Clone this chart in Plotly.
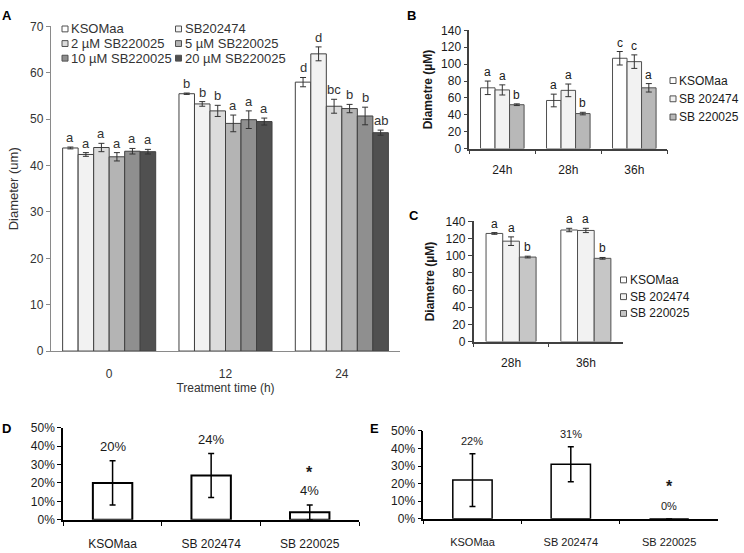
import plotly.graph_objects as go

W, H = 744, 553
FONT = "Liberation Sans, Arial, sans-serif"

# ---------------- data ----------------
# A: diameter over treatment time
a_times = ["0", "12", "24"]
a_groups = ["KSOMaa", "SB202474", "2 µM SB220025", "5 µM SB220025",
            "10 µM SB220025", "20 µM SB220025"]
a_means = [
    [43.8, 55.5, 58.0],
    [42.4, 53.3, 64.1],
    [43.9, 51.8, 52.8],
    [41.9, 49.1, 52.3],
    [43.1, 49.9, 50.7],
    [43.0, 49.5, 47.1],
]
a_errs = [
    [0.2, 0.15, 1.0],
    [0.4, 0.5, 1.5],
    [0.9, 1.2, 1.5],
    [0.9, 1.8, 0.9],
    [0.6, 1.9, 1.9],
    [0.5, 0.75, 0.55],
]
a_letters = [
    ["a", "b", "d"],
    ["a", "b", "d"],
    ["a", "b", "bc"],
    ["a", "a", "b"],
    ["a", "a", "b"],
    ["a", "a", "ab"],
]

# B and C: diameter (µM)
bc_groups = ["KSOMaa", "SB 202474", "SB 220025"]
b_times = ["24h", "28h", "36h"]
b_means = [[72, 57, 107], [69.5, 69, 103], [52, 41.5, 72]]
b_errs = [[8, 7.5, 8], [6, 7.5, 8], [1, 1.5, 5]]
b_letters = [["a", "a", "c"], ["a", "a", "c"], ["b", "b", "a"]]

c_times = ["28h", "36h"]
c_means = [[126, 130], [117, 129.5], [98.5, 97]]
c_errs = [[1, 2], [5, 2.5], [1, 1]]
c_letters = [["a", "a"], ["a", "a"], ["b", "b"]]

# D and E: percentages
de_groups = ["KSOMaa", "SB 202474", "SB 220025"]
d_vals = [20, 24, 4]
d_errs = [12, 12, 4]
d_stars = ["", "", "*"]
e_vals = [22, 31, 0]
e_errs = [15, 10, 0]
e_stars = ["", "", "*"]

a_colors = ["#ffffff", "#f2f2f2", "#dcdcdc", "#b4b4b4", "#8f8f8f", "#505050"]
b_colors = ["#ffffff", "#f2f2f2", "#b8b8b8"]
c_colors = ["#ffffff", "#f2f2f2", "#c6c6c6"]


def xdom(left, right):
    return [left / W, right / W]


def ydom(top, bottom):
    return [1 - bottom / H, 1 - top / H]


fig = go.Figure()
annotations = []
shapes = []


def add_bars(ax, cats, names, means, errs, letters, colors, first_off, width,
             line_col, letter_size, letter_col):
    for i, name in enumerate(names):
        off = first_off + i * width
        fig.add_trace(go.Bar(
            x=cats, y=means[i], name=name, xaxis="x" + ax, yaxis="y" + ax,
            width=width, offset=off, showlegend=False,
            marker=dict(color=colors[i], line=dict(color=line_col, width=1)),
            error_y=dict(type="data", array=errs[i], color="#333333",
                         thickness=1, width=3),
        ))
        for j in range(len(cats)):
            annotations.append(dict(
                x=j + off + width / 2, y=means[i][j] + errs[i][j],
                xref="x" + ax, yref="y" + ax, text=letters[i][j],
                showarrow=False, yanchor="bottom", yshift=0,
                font=dict(size=letter_size, color=letter_col)))


add_bars("", a_times, a_groups, a_means, a_errs, a_letters, a_colors,
         -0.4, 0.8 / 6, "#404040", 13, "#333333")
add_bars("2", b_times, bc_groups, b_means, b_errs, b_letters, b_colors,
         -0.33, 0.22, "#505050", 12, "#1a1a1a")
add_bars("3", c_times, bc_groups, c_means, c_errs, c_letters, c_colors,
         -0.335, 0.223, "#505050", 12, "#1a1a1a")


def add_pct(ax, vals, errs, stars, lw, size, shift, star_shift):
    fig.add_trace(go.Bar(
        x=de_groups, y=vals, xaxis="x" + ax, yaxis="y" + ax,
        width=0.4, offset=-0.2, showlegend=False,
        marker=dict(color="white", line=dict(color="black", width=lw)),
        error_y=dict(type="data", array=errs, color="black",
                     thickness=1.5, width=3),
    ))
    for j, v in enumerate(vals):
        top = v + errs[j]
        annotations.append(dict(
            x=j, y=top, xref="x" + ax, yref="y" + ax, text=f"{v}%",
            showarrow=False, yanchor="middle", yshift=shift,
            font=dict(size=size, color="#1a1a1a")))
        if stars[j]:
            annotations.append(dict(
                x=j, y=top, xref="x" + ax, yref="y" + ax,
                text=f"<b>{stars[j]}</b>",
                showarrow=False, yanchor="middle", yshift=star_shift,
                font=dict(size=16, color="#1a1a1a")))


add_pct("4", d_vals, d_errs, d_stars, 2, 13, 14, 32)
add_pct("5", e_vals, e_errs, e_stars, 1.5, 11, 13, 32)


# legends drawn as keys + labels
def add_key(cx, cy, color, label, size, font_size, font_col):
    s = size / 2
    shapes.append(dict(type="rect", xref="paper", yref="paper",
                       x0=(cx - s) / W, x1=(cx + s) / W,
                       y0=1 - (cy + s) / H, y1=1 - (cy - s) / H,
                       fillcolor=color, line=dict(color="#505050", width=1)))
    annotations.append(dict(x=(cx + s + 1) / W, y=1 - cy / H, xref="paper",
                            yref="paper", text=label, showarrow=False,
                            xanchor="left", yanchor="middle",
                            font=dict(size=font_size, color=font_col)))


for k, name in enumerate(a_groups):
    col, row = k % 2, k // 2
    add_key([65, 178.5][col], 22.5 + row * 15, a_colors[k], name, 6, 13, "#333333")
for k, name in enumerate(bc_groups):
    add_key(673, 75.5 + k * 18.7, b_colors[k], name, 6, 12, "#1a1a1a")
    add_key(623.5, 280 + k * 17.2, c_colors[k], name, 6, 12, "#1a1a1a")

for txt, px, py in [("A", 7, 9), ("B", 412, 9), ("C", 414, 214),
                    ("D", 6, 432), ("E", 374, 432)]:
    annotations.append(dict(x=px / W, y=1 - py / H, xref="paper", yref="paper",
                            text=f"<b>{txt}</b>", showarrow=False,
                            xanchor="center", yanchor="middle",
                            font=dict(size=13, color="black")))

gray_ax = dict(showline=True, linecolor="#8a8a8a", linewidth=1.3,
               showgrid=False, zeroline=False)
dark_ax = dict(showline=True, linecolor="#404040", linewidth=1.5,
               showgrid=False, zeroline=False)
blk_ax = dict(showline=True, linecolor="black", linewidth=2,
              showgrid=False, zeroline=False)

fig.update_layout(
    width=W, height=H, margin=dict(l=0, r=0, t=0, b=0),
    paper_bgcolor="white", plot_bgcolor="white",
    font=dict(family=FONT, size=12, color="#1a1a1a"),
    barmode="group", showlegend=False,
    xaxis=dict(domain=xdom(51, 400), anchor="y", type="category", ticks="",
               tickfont=dict(size=12, color="#333333"), ticklabelstandoff=11,
               title=dict(text="Treatment time (h)", standoff=1,
                          font=dict(size=12, color="#333333")), **gray_ax),
    yaxis=dict(domain=ydom(20, 353), anchor="x", range=[0, 70], dtick=10,
               ticks="outside", ticklen=4, tickcolor="#8a8a8a",
               tickfont=dict(size=12, color="#333333"),
               title=dict(text="Diameter (um)", standoff=8,
                          font=dict(size=13, color="#333333")), **gray_ax),
    xaxis2=dict(domain=xdom(469.3, 667.3), anchor="y2", type="category",
                ticks="outside", tickson="boundaries", ticklen=4,
                tickcolor="#404040", ticklabelstandoff=9,
                tickfont=dict(size=12), **dark_ax),
    yaxis2=dict(domain=ydom(24, 145.3), anchor="x2", range=[0, 140], dtick=20,
                ticks="outside", ticklen=4, tickcolor="#404040",
                tickfont=dict(size=12),
                title=dict(text="<b>Diametre (µM)</b>", standoff=6,
                           font=dict(size=12)), **dark_ax),
    xaxis3=dict(domain=xdom(473.7, 623.3), anchor="y3", type="category",
                ticks="outside", tickson="boundaries", ticklen=4,
                tickcolor="#404040", ticklabelstandoff=9,
                tickfont=dict(size=12), **dark_ax),
    yaxis3=dict(domain=ydom(220, 343.3), anchor="x3", range=[0, 140], dtick=20,
                ticks="outside", ticklen=4, tickcolor="#404040",
                tickfont=dict(size=12),
                title=dict(text="<b>Diametre (µM)</b>", standoff=8,
                           font=dict(size=12)), **dark_ax),
    xaxis4=dict(domain=xdom(63.3, 359), anchor="y4", type="category",
                ticks="outside", tickson="boundaries", ticklen=4,
                tickcolor="black", ticklabelstandoff=12,
                tickfont=dict(size=12), **blk_ax),
    yaxis4=dict(domain=ydom(431.7, 526), anchor="x4", range=[0, 50], dtick=10,
                ticksuffix="%", ticks="outside", ticklen=4, tickcolor="black",
                tickfont=dict(size=12), **blk_ax),
    xaxis5=dict(domain=xdom(423.3, 718.3), anchor="y5", type="category",
                ticks="outside", tickson="boundaries", ticklen=4,
                tickcolor="black", ticklabelstandoff=12,
                tickfont=dict(size=11), **dict(blk_ax, linewidth=1.5)),
    yaxis5=dict(domain=ydom(435, 525), anchor="x5", range=[0, 50], dtick=10,
                ticksuffix="%", ticks="outside", ticklen=4, tickcolor="black",
                tickfont=dict(size=12), **dict(blk_ax, linewidth=1.5)),
    annotations=annotations,
    shapes=shapes,
)

# the page body has an 8px default margin; drop it so the figure sits at 0,0
fig.write_html("out.html", config={"displayModeBar": False},
               post_script="document.body.style.margin='0';")
